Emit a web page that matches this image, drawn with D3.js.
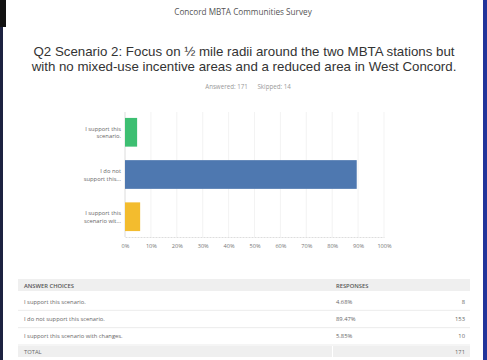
<!DOCTYPE html>
<html>
<head>
<meta charset="utf-8">
<script src="https://cdn.jsdelivr.net/npm/d3@7"></script>
<style>
  html, body { margin: 0; padding: 0; background: #fff; }
  svg { display: block; }
</style>
</head>
<body>
<div id="chart"></div>
<script>
// survey data
const shortLabels = [["I support this", "scenario."], ["I do not", "support this..."], ["I support this", "scenario wit..."]];
const answers = ["I support this scenario.", "I do not support this scenario.", "I support this scenario with changes."];
const percents = [4.68, 89.47, 5.85];
const counts = [8, 153, 10];
const barColors = ["#3dbf72", "#4e78b0", "#f3bc2e"];
const tickVals = [0, 10, 20, 30, 40, 50, 60, 70, 80, 90, 100];
const answered = 171;
const skipped = 14;

const W = 487, H = 360;

const svg = d3.select("#chart").append("svg")
    .attr("width", W)
    .attr("height", H);

// page background + frame edges
svg.append("rect").attr("width", W).attr("height", H).attr("fill", "#fff");
svg.append("rect").attr("x", 0).attr("y", 0).attr("width", 3).attr("height", H).attr("fill", "#1d2240");
svg.append("rect").attr("x", 0).attr("y", 0).attr("width", 6).attr("height", 27).attr("fill", "#111");
svg.append("rect").attr("x", 483).attr("y", 0).attr("width", 4).attr("height", H).attr("fill", "#22349a");

// header
svg.append("text")
    .attr("x", 243).attr("y", 15)
    .attr("text-anchor", "middle")
    .style("font-family", "Open Sans, sans-serif")
    .style("font-size", "8.2px")
    .style("fill", "#555")
    .text("Concord MBTA Communities Survey");

const titleLines = ["Q2 Scenario 2: Focus on \u00bd mile radii around the two MBTA stations but",
    "with no mixed-use incentive areas and a reduced area in West Concord."];
svg.selectAll(".title").data(titleLines).enter().append("text")
    .attr("class", "title")
    .attr("x", 244)
    .attr("y", (d, i) => 56 + i * 15)
    .attr("text-anchor", "middle")
    .style("font-family", "Liberation Sans, Arial, sans-serif")
    .style("font-size", "13.3px")
    .style("fill", "#333")
    .text(d => d);

svg.append("text")
    .attr("x", 248).attr("y", 89)
    .attr("text-anchor", "middle")
    .style("font-family", "Open Sans, sans-serif")
    .style("font-size", "6.2px")
    .style("fill", "#999")
    .style("white-space", "pre")
    .text("Answered: " + answered + "      Skipped: " + skipped);

// chart
const x = d3.scaleLinear().domain([0, 100]).range([125, 384]);
const y = d3.scaleBand().domain(d3.range(percents.length)).range([112, 237]).paddingInner(0.32).paddingOuter(0.14);

const g = svg.append("g");

g.selectAll(".grid").data(tickVals).enter().append("line")
    .attr("x1", d => x(d)).attr("x2", d => x(d))
    .attr("y1", 112).attr("y2", 237)
    .attr("stroke", "#eee")
    .attr("stroke-width", 0.7);

g.append("line")
    .attr("x1", x(0)).attr("x2", x(0))
    .attr("y1", 112).attr("y2", 237)
    .attr("stroke", "#ddd")
    .attr("stroke-width", 0.8);

g.selectAll(".bar").data(percents).enter().append("rect")
    .attr("x", x(0))
    .attr("y", (d, i) => y(i))
    .attr("width", d => x(d) - x(0))
    .attr("height", y.bandwidth())
    .attr("fill", (d, i) => barColors[i]);

const xAxis = d3.axisBottom(x)
    .tickValues(tickVals)
    .tickSize(0)
    .tickPadding(7)
    .tickFormat(d => d + "%");

const ax = svg.append("g")
    .attr("transform", "translate(0,237)")
    .call(xAxis);
ax.select(".domain").attr("stroke", "#ddd").attr("stroke-dasharray", "2,1");
ax.selectAll("text")
    .style("font-family", "Open Sans, sans-serif")
    .style("font-size", "5.6px")
    .style("fill", "#777");

const labs = svg.selectAll(".ylab").data(shortLabels).enter().append("text")
    .attr("class", "ylab")
    .attr("text-anchor", "end")
    .style("font-family", "Open Sans, sans-serif")
    .style("font-size", "5.8px")
    .style("fill", "#666");
labs.selectAll("tspan").data((d, i) => d.map(t => ({t: t, i: i}))).enter().append("tspan")
    .attr("x", 121)
    .attr("y", (d, j) => y(d.i) + y.bandwidth() / 2 - 1.5 + j * 7.5)
    .text(d => d.t);

// table
const tbl = svg.append("g").style("font-family", "Open Sans, sans-serif").style("font-size", "5.8px");
const tx0 = 18, tx1 = 470, colR = 333;

tbl.append("rect").attr("x", tx0).attr("y", 279).attr("width", tx1 - tx0).attr("height", 12).attr("fill", "#efefef");
tbl.append("text").attr("x", 24).attr("y", 287.5).style("fill", "#555").style("font-weight", "600").text("ANSWER CHOICES");
tbl.append("text").attr("x", colR + 3).attr("y", 287.5).style("fill", "#555").style("font-weight", "600").text("RESPONSES");

const rowY = d3.scaleBand().domain(d3.range(answers.length)).range([293, 345]);

answers.forEach((a, i) => {
    const yy = rowY(i) + rowY.bandwidth() / 2 + 2;
    tbl.append("text").attr("x", 24).attr("y", yy).style("fill", "#666").text(a);
    tbl.append("text").attr("x", colR + 3).attr("y", yy).style("fill", "#666").text(d3.format(".2f")(percents[i]) + "%");
    tbl.append("text").attr("x", 465).attr("y", yy).attr("text-anchor", "end").style("fill", "#666").text(counts[i]);
    tbl.append("line")
        .attr("x1", tx0).attr("x2", tx1)
        .attr("y1", rowY(i) + rowY.bandwidth()).attr("y2", rowY(i) + rowY.bandwidth())
        .attr("stroke", "#e6e6e6").attr("stroke-width", 0.8);
});

tbl.append("rect").attr("x", tx0).attr("y", 346).attr("width", colR - tx0 - 1).attr("height", 11).attr("fill", "#efefef");
tbl.append("rect").attr("x", colR).attr("y", 346).attr("width", tx1 - colR).attr("height", 11).attr("fill", "#efefef");
tbl.append("text").attr("x", 24).attr("y", 353.5).style("fill", "#666").text("TOTAL");
tbl.append("text").attr("x", 465).attr("y", 353.5).attr("text-anchor", "end").style("fill", "#666").text(d3.sum(counts));
</script>
</body>
</html>
